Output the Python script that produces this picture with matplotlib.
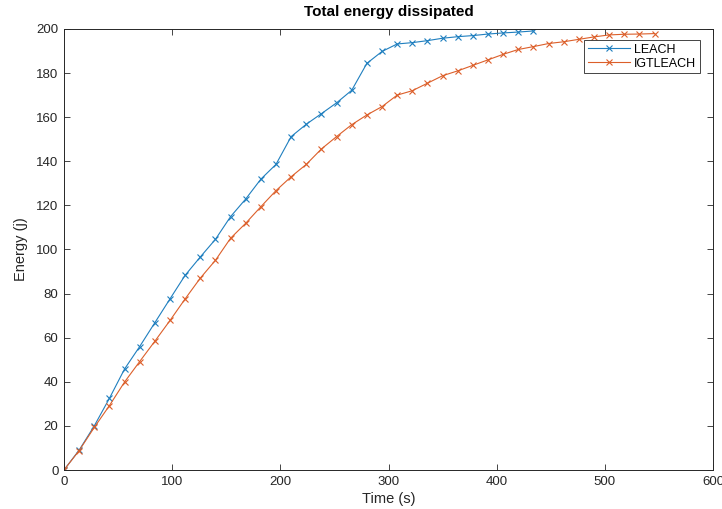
import matplotlib.pyplot as plt

# sample times (s) and cumulative energy (j)
leach_t = [0, 14, 28, 42, 56, 70, 84, 98, 112, 126, 140, 154, 168, 182, 196, 210,
           224, 238, 252, 266, 280, 294, 308, 322, 336, 350, 364, 378, 392, 406, 420, 434]
leach_e = [0, 9, 20, 32.5, 45.8, 56, 66.8, 77.6, 88.3, 96.6, 104.6, 114.9, 122.9, 131.9,
           138.6, 151.2, 156.8, 161.6, 166.5, 172.2, 184.4, 189.8, 193.2, 193.8, 194.7,
           195.8, 196.5, 197, 197.7, 198.2, 198.6, 199.1]

igt_t = [0, 14, 28, 42, 56, 70, 84, 98, 112, 126, 140, 154, 168, 182, 196, 210, 224, 238,
         252, 266, 280, 294, 308, 322, 336, 350, 364, 378, 392, 406, 420, 434, 448, 462,
         476, 490, 504, 518, 532, 546]
igt_e = [0, 8.8, 19.3, 29.2, 39.9, 49.2, 58.4, 67.8, 77.6, 87, 95.1, 105.1, 111.9, 119.4,
         126.7, 133, 138.6, 145.6, 151.2, 156.6, 161, 164.8, 170, 172, 175.4, 178.8, 181,
         183.5, 186, 188.5, 190.7, 192, 193.4, 194.2, 195.3, 196.4, 197.3, 197.6, 197.7, 197.9]

labels = ['LEACH', 'IGTLEACH']
colors = ['#1f7fbf', '#dc5f2a']

plt.rcParams['font.family'] = ['Liberation Sans', 'DejaVu Sans']

fig = plt.figure(figsize=(7.22, 5.09), dpi=100)
ax = fig.add_axes([0.0886, 0.0766, 0.899, 0.8665])

ax.plot(leach_t, leach_e, '-x', color=colors[0], lw=0.8, ms=4.5, mew=0.8, label=labels[0])
ax.plot(igt_t, igt_e, '-x', color=colors[1], lw=0.8, ms=4.5, mew=0.8, label=labels[1])

ax.set_xlim(0, 600)
ax.set_ylim(0, 200)
ax.set_xticks(range(0, 601, 100))
ax.set_yticks(range(0, 201, 20))
ax.tick_params(direction='in', top=True, right=True, length=4, width=0.6,
               labelsize=9.5, colors='#262626', pad=4)
for s in ax.spines.values():
    s.set_linewidth(0.7)
    s.set_color('#262626')

ax.set_title('Total energy dissipated', fontsize=11, fontweight='bold', pad=9)
ax.set_xlabel('Time (s)', fontsize=10.5, color='#262626', labelpad=3)
ax.set_ylabel('Energy (j)', fontsize=10.5, color='#262626', labelpad=6)

leg = ax.legend(loc='upper right', bbox_to_anchor=(0.98, 0.975), fontsize=9,
                fancybox=False, framealpha=1, edgecolor='#262626',
                borderpad=0.3, handlelength=3.4, handletextpad=0.3,
                labelspacing=0.15, borderaxespad=0)
leg.get_frame().set_linewidth(0.6)

plt.savefig('out.png', dpi=100)
